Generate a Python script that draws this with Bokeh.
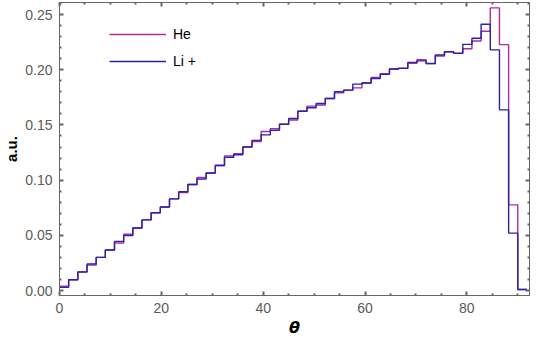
from bokeh.plotting import figure
from bokeh.models import Range1d, LinearAxis, FixedTicker, Legend, LegendItem, PrintfTickFormatter
from bokeh.embed import file_html
from bokeh.resources import INLINE

# ---- data ----
bin_width = 1.8
n_bins = 51
bin_edges = [round(bin_width * i, 2) for i in range(n_bins + 1)]

he_values = [0.004, 0.0097, 0.017, 0.023, 0.030, 0.0367, 0.043, 0.051, 0.0567, 0.064,
             0.0705, 0.0757, 0.083, 0.0888, 0.096, 0.1025, 0.1064, 0.113, 0.1218, 0.124,
             0.130, 0.135, 0.144, 0.1467, 0.1506, 0.1545, 0.1624, 0.167, 0.168, 0.174,
             0.179, 0.1815, 0.1836, 0.188, 0.193, 0.1965, 0.2006, 0.2015, 0.2058, 0.209,
             0.2055, 0.2124, 0.216, 0.215, 0.219, 0.226, 0.2348, 0.256, 0.2227, 0.0776,
             0.001]
li_values = [0.003, 0.0097, 0.0167, 0.024, 0.030, 0.0367, 0.0445, 0.0497, 0.0567, 0.064,
             0.0705, 0.0757, 0.083, 0.0895, 0.096, 0.101, 0.1064, 0.1135, 0.1206, 0.123,
             0.130, 0.136, 0.141, 0.1452, 0.1506, 0.1558, 0.1624, 0.1655, 0.1694, 0.174,
             0.180, 0.1815, 0.187, 0.188, 0.192, 0.1958, 0.2006, 0.2012, 0.2067, 0.208,
             0.2057, 0.2133, 0.2164, 0.2148, 0.223, 0.2285, 0.2412, 0.218, 0.1636, 0.052,
             0.001]

x_major = [0, 20, 40, 60, 80]
x_minor = [v for v in range(0, 95, 5) if v % 20 != 0]
y_major = [0.00, 0.05, 0.10, 0.15, 0.20, 0.25]
y_minor = [round(0.01 * i, 2) for i in range(0, 27) if i % 5 != 0]

series_names = ["He", "Li +"]
he_color = "#B02A9E"
li_color = "#2A22A8"

axis_color = "#666666"
label_color = "#5a5a5a"

p = figure(width=530, height=340, output_backend="svg", toolbar_location=None,
           x_range=Range1d(0, 92.3), y_range=Range1d(-0.0045, 0.2609),
           min_border_left=53, min_border_right=1, min_border_top=2, min_border_bottom=45,
           x_axis_location=None, y_axis_location=None)
p.grid.visible = False
p.outline_line_color = axis_color
p.outline_line_width = 1
p.background_fill_color = "white"
p.border_fill_color = "white"


def style_axis(ax, ticks, minor, show_labels):
    ax.ticker = FixedTicker(ticks=ticks, minor_ticks=minor)
    ax.axis_line_color = axis_color
    ax.major_tick_line_color = axis_color
    ax.minor_tick_line_color = axis_color
    ax.major_tick_line_width = 2
    ax.minor_tick_line_width = 2
    ax.major_tick_in = 4
    ax.major_tick_out = 0
    ax.minor_tick_in = 2
    ax.minor_tick_out = 0
    ax.major_label_text_font = "Liberation Sans"
    ax.major_label_text_color = label_color
    ax.major_label_text_font_size = "14px"
    if show_labels:
        ax.major_label_standoff = 7
    else:
        ax.major_label_standoff = 0
        ax.major_label_overrides = {t: "" for t in ticks}


xb = LinearAxis(axis_label="θ", formatter=PrintfTickFormatter(format="%d"))
style_axis(xb, x_major, x_minor, True)
xb.axis_label_text_font = "DejaVu Sans"
xb.axis_label_text_font_style = "bold italic"
xb.axis_label_text_font_size = "16px"
xb.axis_label_text_color = "black"
xb.axis_label_standoff = 2
p.add_layout(xb, "below")

yl = LinearAxis(axis_label="a.u.", formatter=PrintfTickFormatter(format="%.2f"))
style_axis(yl, y_major, y_minor, True)
yl.axis_label_text_font = "Liberation Sans"
yl.axis_label_text_font_style = "bold"
yl.axis_label_text_font_size = "15px"
yl.axis_label_text_color = "black"
yl.axis_label_standoff = 2
p.add_layout(yl, "left")

xt = LinearAxis()
style_axis(xt, x_major, x_minor, False)
p.add_layout(xt, "above")

yr = LinearAxis()
style_axis(yr, y_major, y_minor, False)
p.add_layout(yr, "right")

# step histograms
he_y = he_values + [he_values[-1]]
li_y = li_values + [li_values[-1]]
r_he = p.step(bin_edges, he_y, mode="after", line_color=he_color, line_width=1.4)
r_li = p.step(bin_edges, li_y, mode="after", line_color=li_color, line_width=1.4)

legend = Legend(items=[LegendItem(label=series_names[0], renderers=[r_he]),
                       LegendItem(label=series_names[1], renderers=[r_li])],
                location=(50, 224), orientation="vertical",
                glyph_width=57, glyph_height=20, label_height=20, spacing=7,
                label_standoff=7, padding=0, margin=0,
                background_fill_alpha=0, border_line_alpha=0,
                label_text_font="Liberation Sans", label_text_font_size="14px",
                label_text_color="black")
p.add_layout(legend, "center")

open("out.html", "w").write(file_html(p, INLINE))
